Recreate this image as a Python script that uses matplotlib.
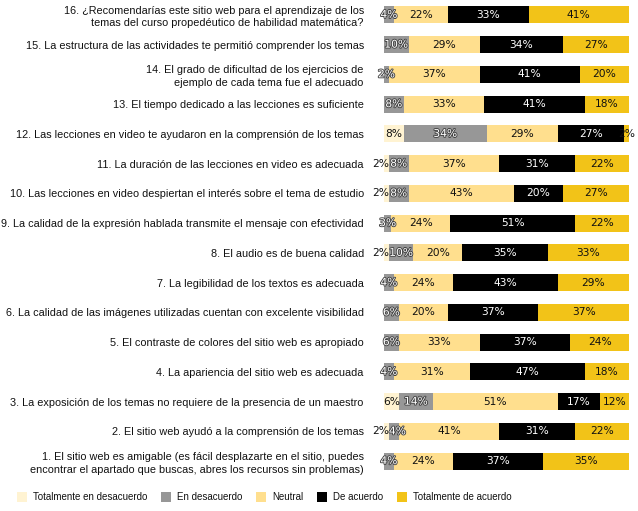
import matplotlib
matplotlib.use("Agg")
import matplotlib.pyplot as plt
import matplotlib.patheffects as pe
from matplotlib import font_manager
import numpy as np

plt.rcParams['font.family'] = ['Liberation Sans', 'DejaVu Sans']

questions = [
    "16. ¿Recomendarías este sitio web para el aprendizaje de los\ntemas del curso propedéutico de habilidad matemática?",
    "15. La estructura de las actividades te permitió comprender los temas",
    "14. El grado de dificultad de los ejercicios de\nejemplo de cada tema fue el adecuado",
    "13. El tiempo dedicado a las lecciones es suficiente",
    "12. Las lecciones en video te ayudaron en la comprensión de los temas",
    "11. La duración de las lecciones en video es adecuada",
    "10. Las lecciones en video despiertan el interés sobre el tema de estudio",
    "9. La calidad de la expresión hablada transmite el mensaje con efectividad",
    "8. El audio es de buena calidad",
    "7. La legibilidad de los textos es adecuada",
    "6. La calidad de las imágenes utilizadas cuentan con excelente visibilidad",
    "5. El contraste de colores del sitio web es apropiado",
    "4. La apariencia del sitio web es adecuada",
    "3. La exposición de los temas no requiere de la presencia de un maestro",
    "2. El sitio web ayudó a la comprensión de los temas",
    "1. El sitio web es amigable (es fácil desplazarte en el sitio, puedes\nencontrar el apartado que buscas, abres los recursos sin problemas)",
]

series_names = ["Totalmente en desacuerdo", "En desacuerdo", "Neutral",
                "De acuerdo", "Totalmente de acuerdo"]

tot_desacuerdo = [0, 0, 0, 0, 8, 2, 2, 0, 2, 0, 0, 0, 0, 6, 2, 0]
en_desacuerdo  = [4, 10, 2, 8, 34, 8, 8, 3, 10, 4, 6, 6, 4, 14, 4, 4]
neutral        = [22, 29, 37, 33, 29, 37, 43, 24, 20, 24, 20, 33, 31, 51, 41, 24]
de_acuerdo     = [33, 34, 41, 41, 27, 31, 20, 51, 35, 43, 37, 37, 47, 17, 31, 37]
tot_acuerdo    = [41, 27, 20, 18, 2, 22, 27, 22, 33, 29, 37, 24, 18, 12, 22, 35]

colors = ["#FFF3D2", "#979797", "#FFDF8E", "#000000", "#F2C318"]
label_colors = ["#111111", "white", "#111111", "white", "#111111"]

data = [tot_desacuerdo, en_desacuerdo, neutral, de_acuerdo, tot_acuerdo]

names = {f.name for f in font_manager.fontManager.ttflist}
if "Liberation Sans Narrow" in names:
    leg_family, leg_size = "Liberation Sans Narrow", 8.3
else:
    leg_family, leg_size = "Liberation Sans", 7.0

fig = plt.figure(figsize=(6.38, 5.11), dpi=100)
ax = fig.add_axes([384/638, 35/511, 245/638, 476/511])

y = np.arange(len(questions))
left = np.zeros(len(questions))
for si, (name, vals, col, lc) in enumerate(zip(series_names, data, colors, label_colors)):
    vals = np.array(vals, dtype=float)
    ax.barh(y, vals, left=left, height=0.57, color=col, label=name, linewidth=0)
    for yi, (l, v) in enumerate(zip(left, vals)):
        if v > 0:
            x, ha = l + v / 2, "center"
            td = tot_desacuerdo[yi]
            if si == 0 and v < 4:
                x, ha = l + v, "right"
            elif si == 1 and 0 < td < 4 and v < 6:
                x, ha = l, "left"
            t = ax.text(x, yi, f"{int(v)}%", ha=ha, va="center",
                        fontsize=7.7, color=lc, family="DejaVu Sans")
            if col == "#979797":
                t.set_path_effects([pe.withStroke(linewidth=1.3, foreground="#444444")])
    left += vals

ax.set_xlim(0, 100)
ax.set_ylim(len(questions) - 0.5, -0.5)
ax.set_yticks(y)
ax.set_yticklabels(questions, fontsize=7.85, linespacing=1.3, color="#111111")
ax.tick_params(axis="y", length=0, pad=14.5)
ax.set_xticks([])
for s in ax.spines.values():
    s.set_visible(False)

handles, labels = ax.get_legend_handles_labels()
fig.legend(handles, labels, loc="center left", bbox_to_anchor=(17/638, 14/511),
           ncol=5, frameon=False, prop={"family": leg_family, "size": leg_size},
           handlelength=1.05, handleheight=1.3,
           columnspacing=1.4, handletextpad=0.6, borderpad=0, borderaxespad=0,
           labelcolor="#111111")

fig.savefig("out.png", dpi=100)
